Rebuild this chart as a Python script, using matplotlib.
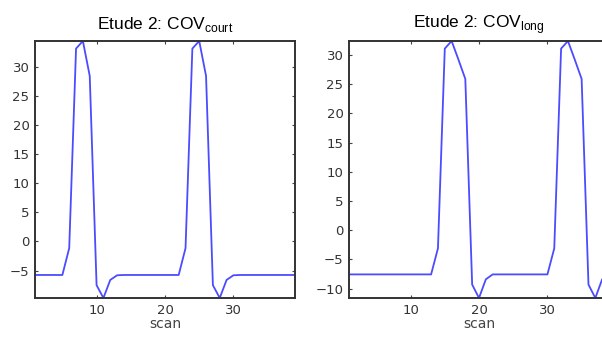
import matplotlib
matplotlib.use("Agg")
import matplotlib.pyplot as plt

plt.rcParams['font.family'] = ['DejaVu Sans']
plt.rcParams['mathtext.fontset'] = 'custom'
plt.rcParams['mathtext.rm'] = 'Liberation Sans'

scan = list(range(1, 40))

cov_court = [-5.75, -5.75, -5.75, -5.75, -5.75, -1.15, 33.1, 34.4, 28.4, -7.5,
             -9.7, -6.6, -5.8, -5.75, -5.75, -5.75, -5.75, -5.75, -5.75, -5.75,
             -5.75, -5.75, -1.15, 33.1, 34.4, 28.4, -7.5, -9.7, -6.6, -5.8,
             -5.75, -5.75, -5.75, -5.75, -5.75, -5.75, -5.75, -5.75, -5.75]

cov_long = [-7.56, -7.56, -7.56, -7.56, -7.56, -7.56, -7.56, -7.56, -7.56, -7.56,
            -7.56, -7.56, -7.56, -3.1, 31.1, 32.4, 29.2, 25.9, -9.3, -11.6,
            -8.4, -7.56, -7.56, -7.56, -7.56, -7.56, -7.56, -7.56, -7.56, -7.56,
            -3.1, 31.1, 32.4, 29.2, 25.9, -9.3, -11.6, -8.4, -7.56]

titles = [r"Etude 2: COV$_{\mathrm{court}}$", r"Etude 2: COV$_{\mathrm{long}}$"]
xticks = [10, 20, 30]
yticks_court = [-5, 0, 5, 10, 15, 20, 25, 30]
yticks_long = [-10, -5, 0, 5, 10, 15, 20, 25, 30]

fig = plt.figure(figsize=(6.02, 3.38), dpi=100)
ax1 = fig.add_axes([35/602, 1-298/338, 260/602, 257/338])
ax2 = fig.add_axes([349/602, 1-298/338, 260/602, 257/338])

for ax, y, title, yt in [(ax1, cov_court, titles[0], yticks_court),
                         (ax2, cov_long, titles[1], yticks_long)]:
    ax.plot(scan, y, color='#4b4bff', lw=1.3)
    ax.set_xlim(1, 39)
    ax.set_ylim(min(y), max(y))
    ax.set_xticks(xticks)
    ax.set_yticks(yt)
    ax.tick_params(direction='in', length=2.5, width=0.8, color='#444444',
                   labelsize=9.5, labelcolor='#333333', top=True, right=True, pad=4)
    for s in ax.spines.values():
        s.set_linewidth(1.4)
        s.set_color('#333333')
    ax.set_title(title, fontsize=12.5, pad=9, family='Liberation Sans')
    ax.set_xlabel('scan', fontsize=10, color='#444444', labelpad=0)

fig.savefig('out.png', dpi=100)
